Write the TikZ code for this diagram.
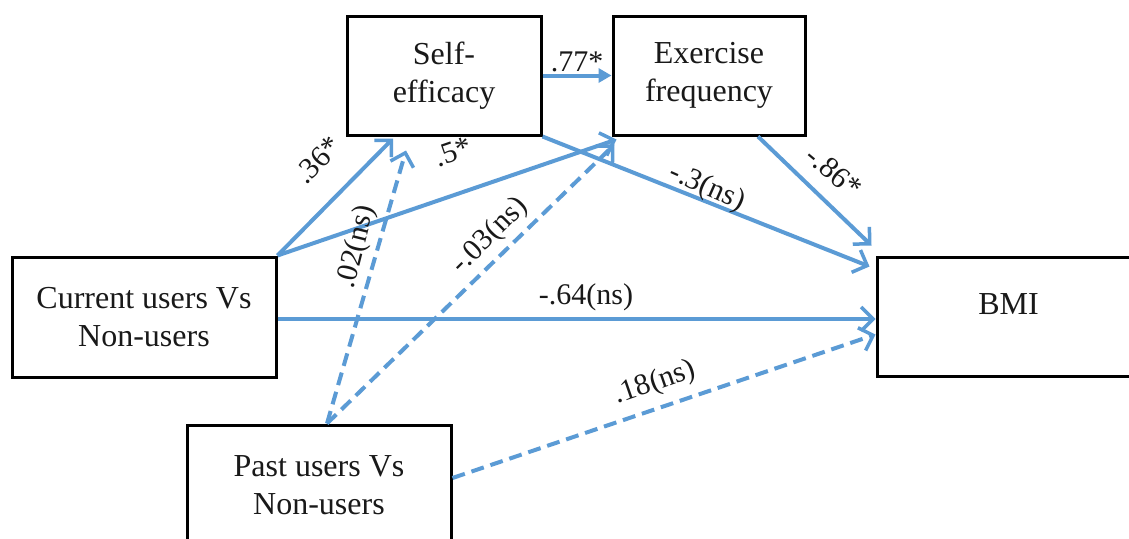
\documentclass[tikz,border=0pt]{standalone}
\usepackage{fontspec}
\setmainfont{Liberation Serif}
\usetikzlibrary{arrows.meta}
\definecolor{ablue}{RGB}{91,155,213}
\begin{document}
\begin{tikzpicture}[x=1pt,y=-1pt,
  box/.style={draw=black, line width=3pt, align=center, inner sep=0pt, text=black!90,
    font=\fontsize{32}{38}\selectfont},
  arr/.style={draw=ablue, line width=4pt, -{Straight Barb[length=12pt,width=24pt,line width=3.5pt]}},
  dsh/.style={arr, dash pattern=on 13pt off 7pt},
  lab/.style={font=\fontsize{30}{36}\selectfont, inner sep=0pt, text=black!90}]
\clip (0,0) rectangle (1129,538);
\fill[white] (0,0) rectangle (1129,538);
% boxes
\node[box, minimum width=194pt, minimum height=119pt] (self) at (444,75.5) {Self-\\efficacy};
\node[box, minimum width=192pt, minimum height=119pt] (exer) at (709,75.5) {Exercise\\frequency};
\node[box, minimum width=264pt, minimum height=120pt] (cur) at (144,317) {Current users Vs\\Non-users};
\node[box, minimum width=263pt, minimum height=119pt, text height=22pt, text depth=26pt] (bmi) at (1008.5,316.5) {BMI};
\node[box, minimum width=264pt, minimum height=120pt] (past) at (319,485) {Past users Vs\\Non-users};
% connectors
\draw[draw=ablue, line width=4pt, -{Triangle[length=13pt,width=14pt]}] (self.east) -- (exer.west);
\draw[arr] (cur.north east) -- ([xshift=-51pt,yshift=-2pt]self.south);
\draw[arr] (cur.north east) -- ([xshift=5pt,yshift=-3pt]exer.south west);
\draw[dsh] ([xshift=8pt]past.north) -- ([xshift=-38pt,yshift=-14pt]self.south);
\draw[dsh] ([xshift=8pt]past.north) -- ([xshift=3pt,yshift=-8pt]exer.south west);
\draw[arr] (self.south east) -- ([xshift=-6pt,yshift=-11pt]bmi.north west);
\draw[arr] ([xshift=49pt]exer.south) -- ([xshift=-4pt,yshift=10pt]bmi.north west);
\draw[arr] ([yshift=-2pt]cur.east) -- ([yshift=-2pt]cur.east -| bmi.west);
\draw[dsh] ([yshift=7pt]past.east) -- ([yshift=-18pt]bmi.west);
% labels
\node[lab] (l77) at (577,62) {.77*};
\node[lab, rotate=46] (l36) at (318,160) {.36*};
\node[lab, rotate=19] (l5) at (453,152) {.5*};
\node[lab, rotate=76] (l02) at (357,247) {.02(ns)};
\node[lab, rotate=45] (l03) at (490,236) {-.03(ns)};
\node[lab, rotate=-24] (l3) at (707,188) {-.3(ns)};
\node[lab, rotate=-40] (l86) at (834,172) {-.86*};
\node[lab] (l64) at (586,297) {-.64(ns)};
\node[lab, rotate=19] (l18) at (655,383) {.18(ns)};
\end{tikzpicture}
\end{document}
